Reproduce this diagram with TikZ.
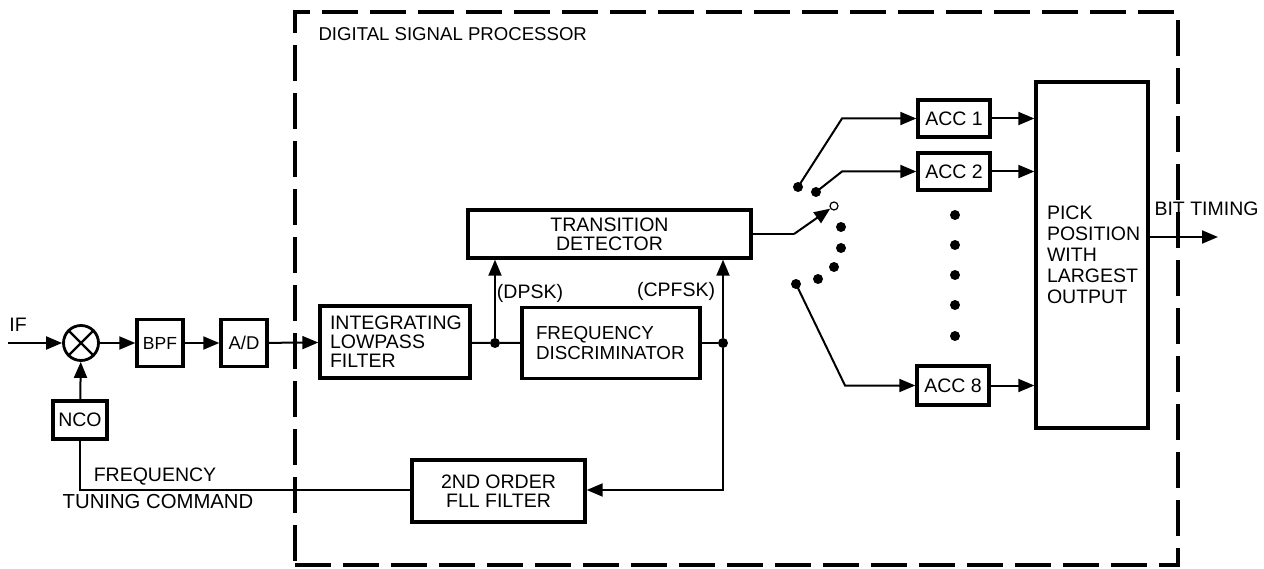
\documentclass[tikz,border=0pt]{standalone}
\usepackage{fontspec}
\setmainfont{Liberation Sans}
\usetikzlibrary{arrows.meta,calc}
\begin{document}
\begin{tikzpicture}[x=1pt,y=-1pt,
  lbl/.style={font=\fontsize{19.5}{19}\selectfont},
  box/.style={draw,line width=3.4pt,inner sep=0pt,lbl},
  conn/.style={line width=2pt},
  arr/.style={conn,-{Triangle[length=16pt,width=13pt]}},
  dot/.style={circle,fill,inner sep=0pt,minimum size=10pt},
  junc/.style={circle,fill,inner sep=0pt,minimum size=10pt}]
\useasboundingbox (0,0) rectangle (1264,569);
\fill[white] (0,0) rectangle (1264,569);

% digital signal processor border
\node[draw,line width=4pt,dash pattern=on 36pt off 12pt,minimum width=883pt,minimum height=553pt,inner sep=0pt] (dsp) at (736.5,288.5) {};
\node[lbl,anchor=west,font=\fontsize{18.6}{19}\selectfont] (dsptitle) at (315,34) {DIGITAL SIGNAL PROCESSOR};

% front end
\node[lbl] (iflbl) at (18,325) {IF};
\coordinate (ifin) at (8,343);
\node[draw,circle,line width=2.8pt,minimum size=35pt,inner sep=0pt] (mix) at (81,343) {};
\draw[line width=2.4pt] (mix.north east) -- (mix.south west) (mix.north west) -- (mix.south east);
\node[box,minimum width=46pt,minimum height=47pt,font=\fontsize{17.5}{19}\selectfont] (bpf) at (160,343) {BPF};
\node[box,minimum width=46pt,minimum height=47pt,font=\fontsize{18.5}{19}\selectfont] (ad) at (244,343) {A/D};
\node[box,minimum width=54pt,minimum height=38pt] (nco) at (80,420) {NCO};

\draw[arr] (ifin) -- (mix);
\draw[arr] (mix) -- (bpf);
\draw[arr] (bpf) -- (ad);
\draw[arr] (nco) -- (mix);

% DSP blocks
\node[box,minimum height=72pt,text width=130pt,inner xsep=10pt,align=left] (ilf) at (395,342) {INTEGRATING\\LOWPASS\\FILTER};
\node[box,minimum height=71pt,text width=150pt,inner xsep=14pt,align=left,font=\fontsize{18.8}{20}\selectfont] (fd) at (611,343) {FREQUENCY\\DISCRIMINATOR};
\node[box,minimum width=283pt,minimum height=48pt,align=center] (td) at (609.5,234) {TRANSITION\\DETECTOR};
\node[box,minimum width=173pt,minimum height=62pt,align=center] (fll) at (498.5,491) {2ND ORDER\\FLL FILTER};

\draw[arr] (ad) -- (ilf);
\node[junc] (jd) at (495,343) {};
\node[junc] (jc) at (723,343) {};
\draw[conn] (ilf) -- (jd) -- (fd);
\draw[conn] (fd) -- (jc);
\draw[arr] (jd) -- (jd |- td.south);
\draw[arr] (jc) -- (jc |- td.south);
\node[lbl] (dpsk) at (530,293) {(DPSK)};
\node[lbl] (cpfsk) at (676,291) {(CPFSK)};

\coordinate (fbr) at (723,490);
\draw[arr] (jc) -- (fbr) -- (fll.east |- fbr);
\coordinate (fbl) at (80,490);
\draw[conn] (fll.west |- fbl) -- (fbl) -- (nco.south);
\node[lbl] (freqlbl) at (155,477) {FREQUENCY};
\node[lbl,font=\fontsize{20.3}{19}\selectfont] (tunelbl) at (158,502) {TUNING COMMAND};

% switch
\coordinate (pivot) at (794,234);
\node[draw,circle,line width=1.2pt,minimum size=8pt,inner sep=0pt] (c3) at (834,206) {};
\draw[conn] (td.east) -- (pivot);
\draw[arr] (pivot) -- (c3);
\node[dot] (c1) at (798,187) {};
\node[dot] (c2) at (816,192) {};
\node[dot] (c4) at (841,227) {};
\node[dot] (c5) at (841,248) {};
\node[dot] (c6) at (834,267) {};
\node[dot] (c7) at (818,279) {};
\node[dot] (c8) at (796,284) {};

% accumulators
\node[box,minimum width=72pt,minimum height=37pt] (acc1) at (954,118.5) {ACC 1};
\node[box,minimum width=72pt,minimum height=37pt] (acc2) at (954,171.5) {ACC 2};
\node[box,minimum width=72pt,minimum height=39pt] (acc8) at (953,385.5) {ACC 8};
\coordinate (k1) at (842,118.5);
\coordinate (k2) at (842,171.5);
\coordinate (k8) at (845,385.5);
\draw[arr] (c1.center) -- (k1) -- (acc1);
\draw[arr] (c2.center) -- (k2) -- (acc2);
\draw[arr] (c8.center) -- (k8) -- (acc8);
\foreach \yy/\nn in {215/v1,245/v2,275/v3,305/v4,336/v5}
  \node[dot] (\nn) at (955,\yy) {};

% pick box
\node[box,minimum height=346pt,text width=90pt,inner xsep=11pt,align=left,font=\fontsize{19.5}{21}\selectfont] (pick) at (1092,255) {PICK\\POSITION\\WITH\\LARGEST\\OUTPUT};
\draw[arr] (acc1) -- (acc1 -| pick.west);
\draw[arr] (acc2) -- (acc2 -| pick.west);
\draw[arr] (acc8) -- (acc8 -| pick.west);
\coordinate (bitout) at (1218,237);
\draw[arr] (pick.east |- bitout) -- (bitout);
\node[lbl,anchor=west] (bitlbl) at (1151,209) {BIT TIMING};
\end{tikzpicture}
\end{document}
